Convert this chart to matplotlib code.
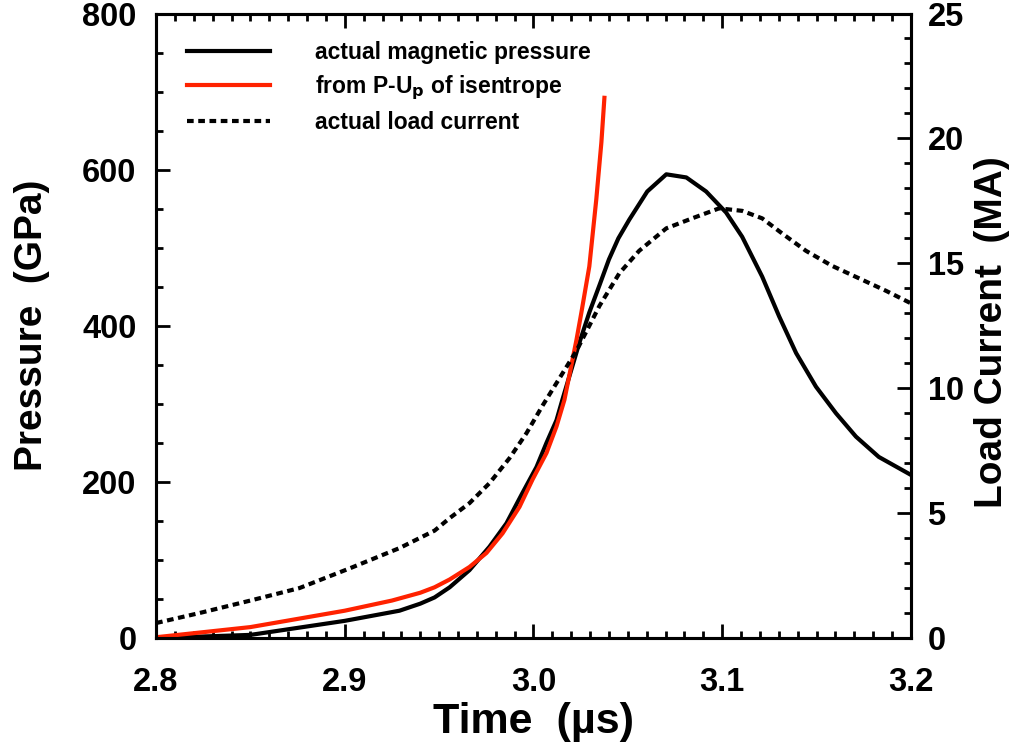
import matplotlib
matplotlib.use('Agg')
import matplotlib.pyplot as plt
from matplotlib.ticker import MultipleLocator

plt.rcParams['font.family'] = ['Liberation Sans', 'DejaVu Sans']
plt.rcParams['font.weight'] = 'bold'

# pressão magnética real (GPa)
t_mag = [2.80, 2.85, 2.90, 2.929, 2.940, 2.9476, 2.9556, 2.9661, 2.9767, 2.9857, 2.9942,
         3.0016, 3.0069, 3.0122, 3.0153, 3.0243, 3.0296, 3.035, 3.040, 3.045, 3.0508,
         3.0603, 3.0704, 3.081, 3.0915, 3.1021, 3.1106, 3.1212, 3.1302, 3.1392, 3.1497,
         3.1603, 3.1709, 3.183, 3.20]
p_mag = [0, 4, 22, 35, 44, 52, 65, 87, 117, 147, 186,
         219, 250, 279, 305, 378, 417, 452, 485, 512, 536,
         572, 594, 590, 572, 545, 514, 463, 412, 365, 322,
         288, 258, 232, 209]

# a partir de P-Up da isentrópica (GPa)
t_isen = [2.80, 2.85, 2.90, 2.925, 2.940, 2.9476, 2.9556, 2.9661, 2.9751, 2.9836, 2.9926,
          2.9995, 3.0069, 3.0122, 3.0164, 3.0228, 3.0254, 3.0296, 3.0333, 3.036, 3.0376]
p_isen = [1, 14, 35, 48, 58, 65, 75, 91, 109, 134, 168,
          203, 237, 271, 305, 382, 417, 476, 562, 635, 692]

# corrente de carga real (MA)
t_cur = [2.80, 2.823, 2.85, 2.876, 2.903, 2.929, 2.9476, 2.9556, 2.9661, 2.9767, 2.9873,
         2.9963, 3.0048, 3.0138, 3.0228, 3.0296, 3.035, 3.0455, 3.056, 3.0704, 3.0841,
         3.0984, 3.1106, 3.1212, 3.1317, 3.1444, 3.1582, 3.1725, 3.1868, 3.20]
i_cur = [0.6, 1.0, 1.5, 2.0, 2.8, 3.6, 4.3, 4.8, 5.4, 6.2, 7.2,
         8.2, 9.3, 10.4, 11.5, 12.5, 13.3, 14.6, 15.5, 16.4, 16.8,
         17.2, 17.1, 16.8, 16.2, 15.5, 14.9, 14.4, 13.9, 13.4]

fig = plt.figure(figsize=(10.2, 7.5), dpi=100)
ax = fig.add_axes([0.153, 0.1493, 0.740, 0.8327])
ax2 = ax.twinx()

l1, = ax.plot(t_mag, p_mag, color='black', lw=3, label='actual magnetic pressure')
l2, = ax.plot(t_isen, p_isen, color='#ff2200', lw=3, label=r'from P-U$_\mathbf{p}$ of isentrope')
l3, = ax2.plot(t_cur, i_cur, color='black', lw=3, linestyle=(0, (1.6, 1.1)), label='actual load current')

ax.set_xlim(2.8, 3.2)
ax.set_ylim(0, 800)
ax2.set_ylim(0, 25)

ax.xaxis.set_major_locator(MultipleLocator(0.1))
ax.xaxis.set_minor_locator(MultipleLocator(0.01))
ax.yaxis.set_major_locator(MultipleLocator(200))
ax.yaxis.set_minor_locator(MultipleLocator(50))
ax2.yaxis.set_major_locator(MultipleLocator(5))
ax2.yaxis.set_minor_locator(MultipleLocator(1))
ax.set_xticks([2.8, 2.9, 3.0, 3.1, 3.2])
ax.set_xticklabels(['2.8', '2.9', '3.0', '3.1', '3.2'])

ax.tick_params(axis='x', which='both', direction='in', top=True, labelsize=23.5, pad=21)
ax.tick_params(axis='y', which='both', direction='in', right=False, labelsize=23.5, pad=14)
ax2.tick_params(axis='y', which='both', direction='in', labelsize=23.5, pad=12)
for a in (ax, ax2):
    a.tick_params(which='major', length=10, width=2)
    a.tick_params(which='minor', length=5, width=2)
    for s in a.spines.values():
        s.set_linewidth(2.2)

ax.set_xlabel('Time  (\u00b5s)', fontsize=31, fontweight='bold', labelpad=3)
ax.set_ylabel('Pressure  (GPa)', fontsize=28, fontweight='bold')
ax2.set_ylabel('Load Current  (MA)', fontsize=28, fontweight='bold')
ax.yaxis.set_label_coords(-0.141, 0.50)
ax2.yaxis.set_label_coords(1.084, 0.49)

leg = ax.legend(handles=[l1, l2, l3], loc='upper left', frameon=False, fontsize=16.5,
                handlelength=3.62, handletextpad=1.96, labelspacing=0.42,
                bbox_to_anchor=(0.02, 0.982), borderaxespad=0.3)

plt.savefig('out.png', dpi=100)
